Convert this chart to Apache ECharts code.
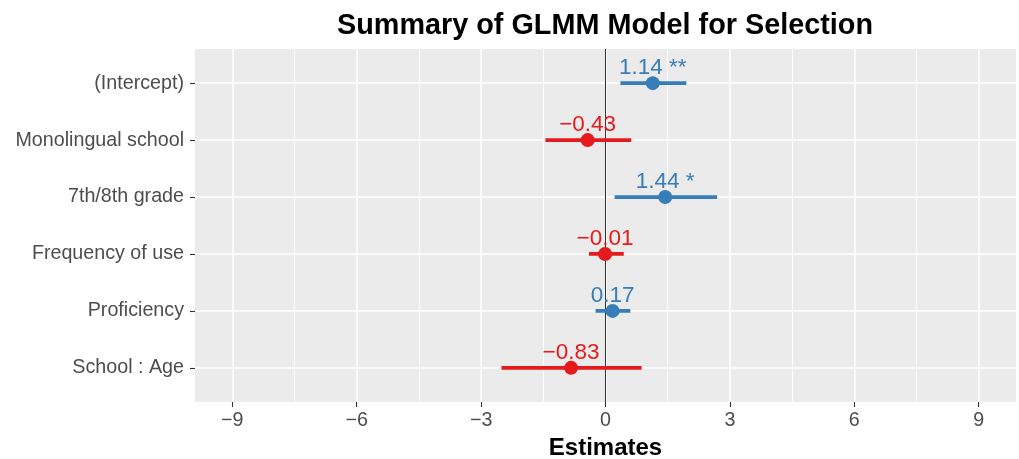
<!DOCTYPE html>
<html>
<head>
<meta charset="utf-8">
<script src="https://cdn.jsdelivr.net/npm/echarts@6/dist/echarts.min.js"></script>
<style>
  html, body { margin: 0; padding: 0; background: #fff; }
  #chart { width: 1019px; height: 459px; }
</style>
</head>
<body>
<div id="chart"></div>
<script>
const categories = ['(Intercept)', 'Monolingual school', '7th/8th grade', 'Frequency of use', 'Proficiency', 'School : Age']
const estimates = [1.14, -0.43, 1.44, -0.01, 0.17, -0.83]
const ciLow = [0.36, -1.45, 0.22, -0.40, -0.24, -2.51]
const ciHigh = [1.95, 0.62, 2.69, 0.44, 0.60, 0.87]
const stars = ['**', '', '*', '', '', '']
const xTicks = [-9, -6, -3, 0, 3, 6, 9]
const xMinor = [-7.5, -4.5, -1.5, 1.5, 4.5, 7.5]

const BLUE = '#377EB8'
const RED = '#E41A1C'
const FONT = "'Liberation Sans', Arial, sans-serif"
const rows = categories.map((c, i) => i + 1)
const minus = s => String(s).replace('-', '\u2212')

function labelText(i) {
  const v = estimates[i]
  return (v < 0 ? '\u2212' : '') + Math.abs(v).toFixed(2) + (stars[i] ? ' ' + stars[i] : '')
}

const chart = echarts.init(document.getElementById('chart'))
chart.setOption({
  animation: false,
  title: {
    text: 'Summary of GLMM Model for Selection',
    left: 605,
    top: 12,
    padding: 0,
    textAlign: 'center',
    textStyle: { fontFamily: FONT, fontSize: 28.8, fontWeight: 'bold', color: '#000' }
  },
  grid: {
    left: 195, right: 3, top: 49, bottom: 57,
    outerBoundsMode: 'none',
    containLabel: false,
    show: true, backgroundColor: '#EBEBEB', borderWidth: 0
  },
  xAxis: {
    type: 'value',
    min: -9.9, max: 9.9,
    name: 'Estimates',
    nameLocation: 'middle',
    nameGap: 27,
    nameTextStyle: { fontFamily: FONT, fontSize: 24, fontWeight: 'bold', color: '#000' },
    axisLine: { show: false, onZero: false },
    axisTick: { show: true, length: 5, customValues: xTicks, lineStyle: { color: '#333', width: 1.1 } },
    axisLabel: {
      customValues: xTicks, margin: 9,
      fontFamily: FONT, fontSize: 19.7, color: '#4D4D4D',
      formatter: v => minus(v)
    },
    splitLine: { show: true, lineStyle: { color: '#fff', width: 1.5 } }
  },
  yAxis: {
    type: 'value',
    inverse: true,
    min: 0.4, max: 6.6,
    axisLine: { show: false, onZero: false },
    axisTick: { show: true, length: 5, customValues: rows, lineStyle: { color: '#333', width: 1.1 } },
    axisLabel: {
      customValues: rows, margin: 11,
      fontFamily: FONT, fontSize: 19.7, color: '#4D4D4D',
      formatter: v => categories[Math.round(v) - 1] || ''
    },
    splitLine: { show: true, lineStyle: { color: '#fff', width: 1.5 } }
  },
  series: [
    {
      type: 'line',
      data: [],
      silent: true,
      markLine: {
        silent: true,
        symbol: 'none',
        z: 1,
        animation: false,
        label: { show: false },
        emphasis: { disabled: true },
        data: xMinor.map(v => ({ xAxis: v, lineStyle: { color: '#fff', width: 0.9, type: 'solid' } }))
          .concat([{ xAxis: 0, lineStyle: { color: '#000', width: 0.8, type: 'solid' } }])
      }
    },
    {
      type: 'custom',
      z: 3,
      clip: false,
      data: categories.map((c, i) => [ciLow[i], ciHigh[i], estimates[i], i + 1]),
      encode: { x: [0, 1, 2], y: 3 },
      renderItem(params, api) {
        const i = params.dataIndex
        const row = api.value(3)
        const a = api.coord([api.value(0), row])
        const b = api.coord([api.value(1), row])
        const p = api.coord([api.value(2), row])
        const color = estimates[i] >= 0 ? BLUE : RED
        return {
          type: 'group',
          children: [
            { type: 'line', shape: { x1: a[0], y1: a[1], x2: b[0], y2: b[1] }, style: { stroke: color, lineWidth: 3.8 } },
            { type: 'circle', shape: { cx: p[0], cy: p[1], r: 7 }, style: { fill: color } },
            {
              type: 'text', x: p[0], y: p[1] - 15,
              style: { text: labelText(i), fill: color, fontFamily: FONT, fontSize: 22.5, align: 'center', verticalAlign: 'middle' }
            }
          ]
        }
      }
    }
  ]
})
</script>
</body>
</html>
